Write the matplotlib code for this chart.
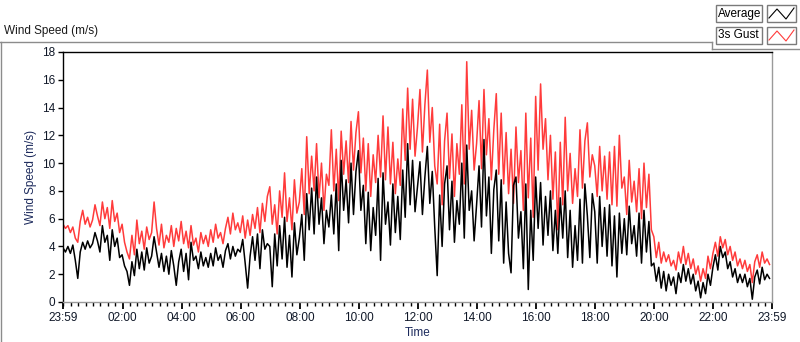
import matplotlib
matplotlib.use("Agg")
import matplotlib.pyplot as plt
from matplotlib.lines import Line2D
from matplotlib.patches import Rectangle
import numpy as np

# 5-minute samples, 12 per hour, starting at 23:59
gust = [
    5.6,5.3,5.5,5.0,5.4,4.6,4.3,5.8,6.6,5.6,6.1,5.4,
    5.9,7.0,6.2,5.5,7.2,6.0,6.8,5.3,7.3,5.8,6.4,5.0,
    5.6,4.3,3.6,3.1,4.8,3.4,5.9,4.2,5.1,3.8,5.4,4.5,
    5.0,7.2,5.3,4.1,5.6,3.9,4.8,4.3,5.5,4.0,5.3,4.4,
    5.8,4.2,5.1,3.9,5.5,4.1,4.6,3.6,5.0,4.2,4.8,4.0,
    5.2,4.3,5.6,4.6,5.0,4.2,5.3,6.1,4.9,6.4,5.2,5.7,
    5.0,6.2,4.6,5.9,4.8,6.3,5.3,6.8,5.0,7.1,5.8,7.6,
    8.3,5.6,7.0,4.9,8.0,6.1,9.3,5.8,7.5,5.2,8.8,6.4,
    7.2,9.6,6.3,11.9,7.8,10.5,8.0,11.4,7.5,10.0,6.6,9.2,
    8.4,12.4,8.0,11.0,7.3,12.3,9.2,11.6,8.6,13.0,9.5,12.2,
    13.7,9.3,11.8,8.0,11.4,7.6,10.6,8.6,12.0,9.0,13.4,8.8,
    12.6,8.5,11.5,7.8,10.3,8.4,13.9,10.2,15.4,11.0,14.6,10.5,
    12.6,15.3,10.8,14.2,16.7,11.5,14.0,9.8,8.5,12.8,7.0,11.6,
    13.6,8.9,12.1,7.6,11.4,9.2,14.2,8.5,17.3,11.0,13.8,9.5,
    11.4,14.5,9.6,15.3,10.6,13.2,8.8,12.4,15.0,9.2,13.6,8.5,
    12.2,7.8,11.0,7.1,12.6,8.6,10.9,6.6,13.6,7.5,11.8,6.1,
    14.8,9.5,15.7,11.0,13.2,8.8,12.0,7.4,10.8,5.2,11.5,7.0,
    13.3,8.0,10.7,7.1,9.6,7.6,12.4,8.2,11.6,12.9,9.0,10.6,
    9.8,7.6,11.2,8.0,10.5,7.4,10.8,7.0,11.2,6.9,12.0,8.2,
    9.0,6.3,10.2,7.2,8.7,6.5,9.6,6.0,10.0,6.8,9.2,5.2,
    4.7,3.2,4.3,2.8,3.6,2.9,3.4,2.6,3.0,2.3,3.6,2.8,
    4.0,2.7,3.5,2.4,3.1,2.0,2.6,1.5,2.4,1.7,3.3,2.4,
    3.5,4.3,3.3,4.7,3.9,4.5,3.4,4.0,3.0,3.6,2.6,3.1,
    2.4,3.0,2.2,2.7,1.4,2.9,3.4,2.5,3.6,2.8,3.1,2.7,
]
average = [
    3.9,3.6,4.0,3.5,4.1,3.0,1.7,3.6,4.3,3.8,4.4,3.9,
    4.2,5.0,4.4,3.6,5.5,4.3,4.8,3.0,5.2,4.0,4.6,3.2,
    3.4,2.6,2.2,1.2,2.9,1.9,3.8,2.4,3.6,2.3,3.9,2.8,
    3.3,4.7,3.6,2.5,3.5,2.2,3.3,2.0,3.7,2.6,1.2,2.9,
    3.8,2.2,3.5,1.6,4.3,3.0,3.3,2.4,3.6,2.6,3.2,2.5,
    3.5,2.6,3.9,3.0,3.4,2.5,3.7,4.2,3.1,4.0,3.3,3.8,
    3.6,4.5,2.8,1.0,3.3,4.7,3.0,4.9,2.4,5.2,3.8,4.2,
    4.0,1.1,4.9,2.6,5.5,3.1,6.1,2.5,4.8,1.8,5.7,3.4,
    4.6,6.3,3.0,7.8,5.2,8.2,4.9,9.0,5.6,7.5,4.2,6.6,
    5.4,7.7,4.9,8.5,3.7,10.2,6.6,8.8,5.7,10.0,6.3,9.4,
    10.9,6.6,8.4,4.2,7.9,3.7,6.8,4.8,8.9,3.0,9.3,5.6,
    7.2,4.1,8.5,5.0,7.6,4.5,9.5,6.1,11.4,7.0,10.2,6.5,
    8.3,10.1,6.3,9.0,11.2,7.1,9.4,5.4,1.9,7.7,4.0,8.5,
    9.8,5.2,8.7,4.3,7.3,5.6,10.0,4.6,11.3,6.6,8.0,4.4,
    7.0,9.8,5.4,11.7,6.2,9.0,3.5,8.1,9.5,4.4,8.8,2.8,
    7.2,3.5,2.1,8.4,9.0,4.6,6.5,2.4,8.5,0.9,6.6,3.0,
    9.0,5.3,8.6,4.1,7.6,4.8,8.0,3.7,6.6,3.5,7.5,4.6,
    8.0,3.2,6.6,2.5,5.5,3.0,7.4,2.8,8.5,6.2,3.2,7.8,
    6.5,2.8,7.6,4.0,6.8,3.3,7.0,2.6,6.2,1.8,6.4,3.5,
    6.0,3.4,6.9,4.2,5.5,3.3,6.4,2.8,6.6,3.6,5.8,2.6,
    2.8,1.5,2.5,1.0,2.2,0.8,2.0,1.2,1.8,0.6,2.1,1.4,
    2.7,1.5,2.4,1.3,2.0,0.8,1.5,0.3,1.4,0.6,2.0,1.2,
    2.5,3.4,2.3,4.0,3.2,3.6,2.4,2.9,1.8,2.4,1.4,2.0,
    1.4,2.0,1.1,1.7,0.2,1.8,2.3,1.3,2.5,1.6,2.0,1.7,
]
sample_minutes = 5
x_tick_labels = ["23:59", "02:00", "04:00", "06:00", "08:00", "10:00", "12:00",
                 "14:00", "16:00", "18:00", "20:00", "22:00", "23:59"]
y_ticks = [0, 2, 4, 6, 8, 10, 12, 14, 16, 18]

FONT = "Liberation Sans"
NAVY = "#1c2a5c"
W, H = 800, 342

fig = plt.figure(figsize=(W / 100, H / 100), dpi=100)
fig.patch.set_facecolor("white")

def fx(px):
    return px / W

def fy(py):
    return 1 - py / H

ax = fig.add_axes([fx(63), fy(302), fx(772) - fx(63), fy(52) - fy(302)])
t = np.arange(len(gust)) * sample_minutes
ax.plot(t, gust, color="#ff3b3b", lw=1.1)
ax.plot(t, average, color="black", lw=1.1)

ax.set_xlim(0, 1440)
ax.set_ylim(0, 18)
major = [0] + [121 + 120 * k for k in range(11)] + [1440]
ax.set_xticks(major)
ax.set_xticklabels(x_tick_labels)
ax.set_xticks([1 + 15 * k for k in range(96)], minor=True)
ax.set_yticks(y_ticks)
ax.set_yticklabels([str(v) for v in y_ticks])
ax.tick_params(axis="x", which="major", direction="out", length=5, width=1.3,
               pad=2, labelsize=8.5, colors="black")
ax.tick_params(axis="x", which="minor", direction="out", length=3, width=1.0)
ax.tick_params(axis="y", which="major", direction="out", length=3.5, width=1.0,
               pad=2, labelsize=8.5)
for lab in ax.get_xticklabels() + ax.get_yticklabels():
    lab.set_fontfamily(FONT)
    lab.set_color("#101828")

ax.spines["top"].set_color("black")
ax.spines["left"].set_color("black")
ax.spines["right"].set_color("#9a9a9a")
ax.spines["bottom"].set_color("#9a9a9a")
for s in ax.spines.values():
    s.set_linewidth(1.0)

ax.set_xlabel("Time", fontfamily=FONT, fontsize=8.5, color=NAVY, labelpad=2)
ax.set_ylabel("Wind Speed (m/s)", fontfamily=FONT, fontsize=8.5, color=NAVY, labelpad=4)

# title of the panel
fig.text(fx(4), fy(31), "Wind Speed (m/s)", fontfamily=FONT, fontsize=8.5,
         color="#1a1a1a", va="center", ha="left")

# panel frame
gray = "#8c8c8c"
for xs, ys in [((0, 712), (42, 42)), ((712, 712), (42, 49)), ((712, 800), (49, 49)),
               ((0.5, 0.5), (42, 342))]:
    fig.add_artist(Line2D([fx(v) for v in xs], [fy(v) for v in ys], color=gray, lw=1.0))

# legend
def legend_row(y0, label, color):
    fig.add_artist(Rectangle((fx(716), fy(y0 + 17)), fx(46), fy(y0) - fy(y0 + 17),
                             fill=False, edgecolor="#7a7a7a", lw=1.0))
    fig.text(fx(718), fy(y0 + 8.5), label, fontfamily=FONT, fontsize=8.5,
             color="black", va="center", ha="left")
    fig.add_artist(Rectangle((fx(767), fy(y0 + 17)), fx(29), fy(y0) - fy(y0 + 17),
                             fill=False, edgecolor="#7a7a7a", lw=1.0))
    zx = [769, 777, 786, 794]
    zy = [y0 + 13, y0 + 4, y0 + 14, y0 + 3]
    fig.add_artist(Line2D([fx(v) for v in zx], [fy(v) for v in zy], color=color, lw=0.8))

legend_row(5, "Average", "black")
legend_row(27, "3s Gust", "#ff3b3b")

fig.savefig("out.png", dpi=100)
